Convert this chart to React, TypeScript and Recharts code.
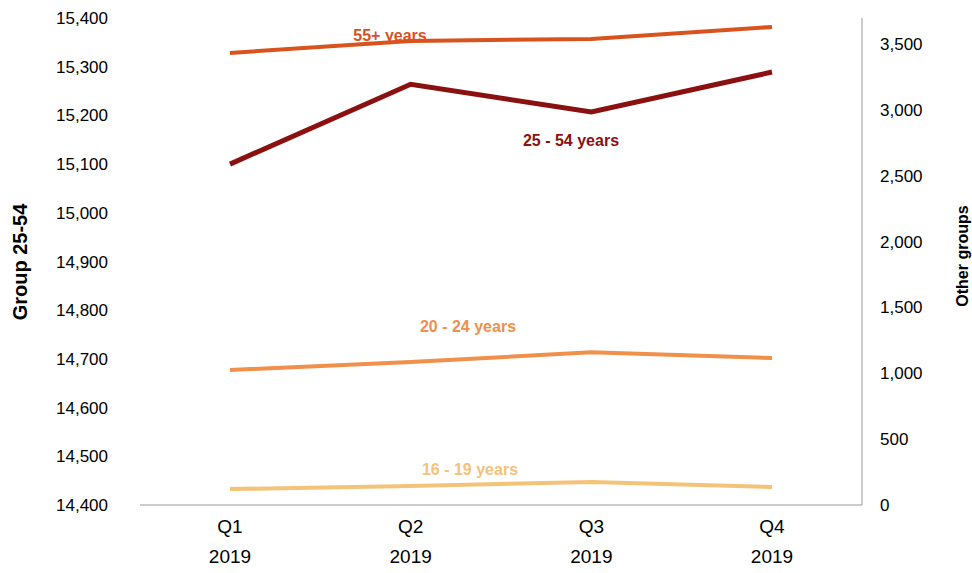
import React from "react";
import { ComposedChart, Line, XAxis, YAxis, Customized } from "recharts";

const quarters = ["Q1\n2019", "Q2\n2019", "Q3\n2019", "Q4\n2019"];
const group2554 = [15100, 15264, 15207, 15289];
const group55 = [3432, 3523, 3538, 3629];
const group2024 = [1025, 1085, 1160, 1115];
const group1619 = [121, 144, 175, 137];
const leftTicks = [14400, 14500, 14600, 14700, 14800, 14900, 15000, 15100, 15200, 15300, 15400];
const rightTicks = [0, 500, 1000, 1500, 2000, 2500, 3000, 3500];

const data = quarters.map((q, i) => ({
  q,
  a: group2554[i],
  b: group55[i],
  c: group2024[i],
  d: group1619[i],
}));

const fmt = (v: number) => v.toLocaleString("en-US");
const FONT = "Liberation Sans, Arial";

const XTick = (props: any) => {
  const { x, y, payload } = props;
  const [l1, l2] = String(payload.value).split("\n");
  return (
    <text x={x} y={y} textAnchor="middle" fontSize={19} fill="#000" fontFamily={FONT}>
      <tspan x={x} dy={20}>{l1}</tspan>
      <tspan x={x} dy={30}>{l2}</tspan>
    </text>
  );
};

const Labels = () => (
  <g fontFamily={FONT} fontWeight="bold" fontSize={16} textAnchor="middle">
    <text x={390} y={41} fill="#D9531E">55+ years</text>
    <text x={571} y={146} fill="#8B1111">25 - 54  years</text>
    <text x={468} y={332} fill="#F0904A">20 - 24 years</text>
    <text x={470} y={475} fill="#F5C27A">16 - 19 years</text>
    <text transform="translate(27,262) rotate(-90)" fill="#000" fontSize={20}>Group 25-54</text>
    <text transform="translate(968,256) rotate(-90)" fill="#000" fontSize={16}>Other groups</text>
  </g>
);

export default function App() {
  return (
    <div style={{ position: "absolute", left: 0, top: 0 }}>
      <ComposedChart width={972} height={573} data={data} margin={{ top: 18, right: 0, left: 0, bottom: 8 }}>
        <XAxis dataKey="q" tick={<XTick />} tickLine={false} axisLine={{ stroke: "#999" }} height={60} padding={{ left: 90, right: 90 }} />
        <YAxis
          yAxisId="l"
          domain={[14400, 15400]}
          ticks={leftTicks}
          tickFormatter={fmt}
          width={140}
          axisLine={false}
          tickLine={false}
          tickMargin={26}
          tick={{ fill: "#000", fontSize: 17, fontFamily: FONT }}
        />
        <YAxis
          yAxisId="r"
          orientation="right"
          domain={[0, 3697]}
          ticks={rightTicks}
          tickFormatter={fmt}
          width={110}
          axisLine={{ stroke: "#999" }}
          tickLine={false}
          tickMargin={12}
          tick={{ fill: "#000", fontSize: 17, fontFamily: FONT }}
        />
        <Line yAxisId="r" dataKey="b" stroke="#D9531E" strokeWidth={4} dot={false} isAnimationActive={false} />
        <Line yAxisId="l" dataKey="a" stroke="#8B1111" strokeWidth={5} dot={false} isAnimationActive={false} />
        <Line yAxisId="r" dataKey="c" stroke="#F0904A" strokeWidth={4} dot={false} isAnimationActive={false} />
        <Line yAxisId="r" dataKey="d" stroke="#F5C27A" strokeWidth={4} dot={false} isAnimationActive={false} />
        <Customized component={Labels} />
      </ComposedChart>
    </div>
  );
}
